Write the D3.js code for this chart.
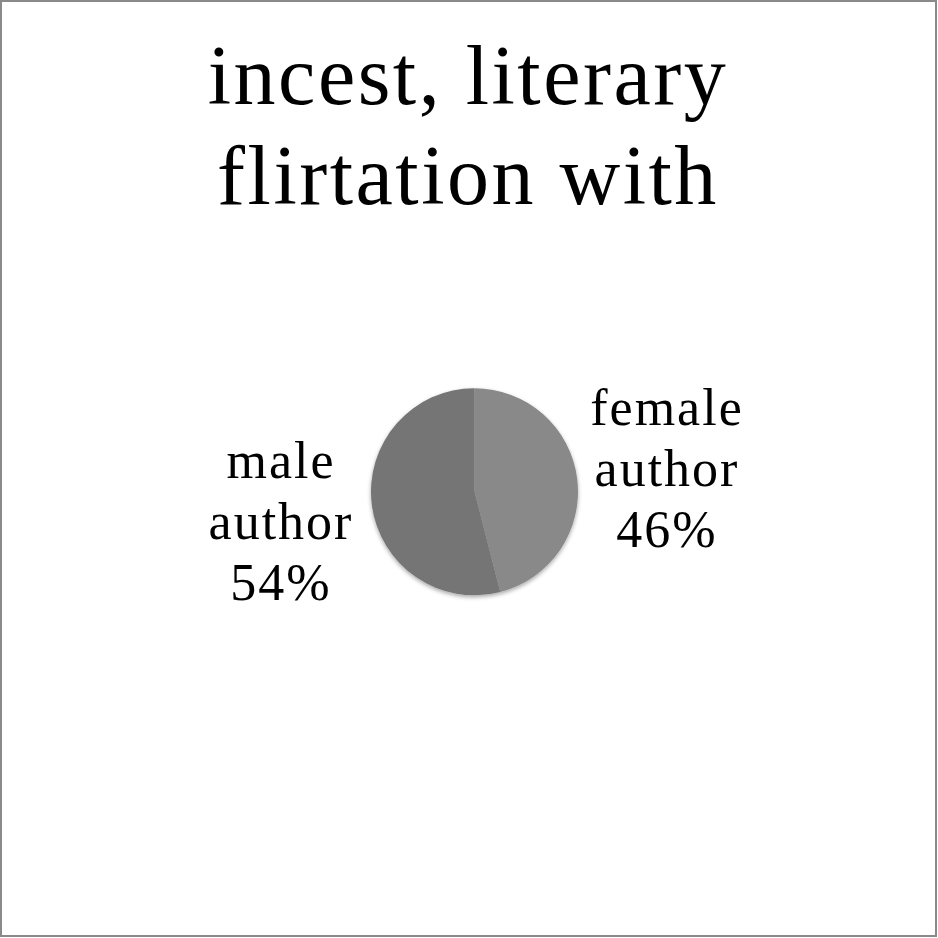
<!DOCTYPE html>
<html><head><meta charset="utf-8">
<script src="https://cdn.jsdelivr.net/npm/d3@7"></script>
<style>html,body{margin:0;padding:0;background:#fff;}</style>
</head><body>
<svg id="chart" width="938" height="938"></svg>
<script>
const titleLines = ["incest, literary", "flirtation with"];
const categories = ["female author", "male author"];
const values = [46, 54];
const colors = ["#898989", "#747474"];

const svg = d3.select("#chart");
const font = "'Liberation Serif', 'Times New Roman', serif";

svg.append("rect").attr("x", 1).attr("y", 1).attr("width", 935).attr("height", 935)
  .attr("fill", "#fff").attr("stroke", "#8a8a8a").attr("stroke-width", 2);

svg.append("g").selectAll("text").data(titleLines).join("text")
  .attr("x", 468).attr("y", (d, i) => 104 + i * 100)
  .attr("text-anchor", "middle").attr("font-family", font).attr("font-size", 84)
  .attr("letter-spacing", 2.5)
  .attr("fill", "#000").text(d => d);

const cx = 474.5, cy = 491.7, r = 103.5;
const defs = svg.append("defs");
const f = defs.append("filter").attr("id", "sh").attr("x", "-20%").attr("y", "-20%").attr("width", "140%").attr("height", "140%");
f.append("feGaussianBlur").attr("in", "SourceAlpha").attr("stdDeviation", 2);
f.append("feOffset").attr("dx", 0).attr("dy", 2).attr("result", "b");
f.append("feComponentTransfer").append("feFuncA").attr("type", "linear").attr("slope", 0.35);
const m = f.append("feMerge");
m.append("feMergeNode");
m.append("feMergeNode").attr("in", "SourceGraphic");

const pie = d3.pie().sort(null).value(d => d);
const arc = d3.arc().innerRadius(0).outerRadius(r);
const g = svg.append("g").attr("transform", `translate(${cx},${cy})`).attr("filter", "url(#sh)");
g.selectAll("path").data(pie(values)).join("path")
  .attr("d", arc).attr("fill", (d, i) => colors[i]);

const labelPos = [{x: 667, y: 425, dy: 61}, {x: 281, y: 478, dy: 61}];
const lg = svg.append("g");
categories.forEach((c, i) => {
  const lines = c.split(" ").concat([values[i] + "%"]);
  lg.append("g").selectAll("text").data(lines).join("text")
    .attr("x", labelPos[i].x).attr("y", (d, j) => labelPos[i].y + j * labelPos[i].dy)
    .attr("text-anchor", "middle").attr("font-family", font).attr("font-size", 52)
    .attr("letter-spacing", 2)
    .attr("fill", "#000").text(d => d);
});
</script>
</body></html>
